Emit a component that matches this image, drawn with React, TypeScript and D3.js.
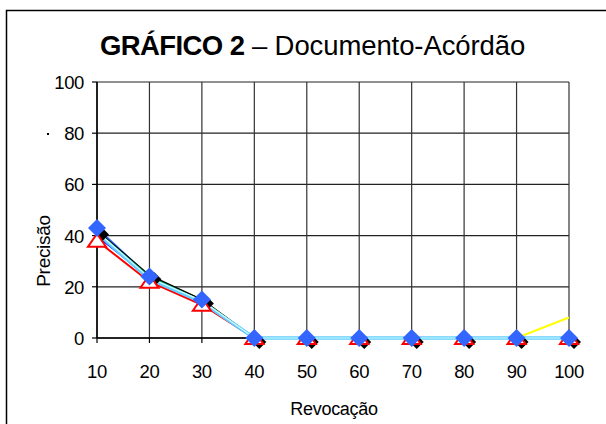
import React from "react";
import * as d3 from "d3";

const categories = [10, 20, 30, 40, 50, 60, 70, 80, 90, 100];
const yTicks = [0, 20, 40, 60, 80, 100];

const seriesRed = [38, 22, 13, 0, 0, 0, 0, 0, 0, 0];
const seriesDarkBlue = [40, 23.5, 14, 0, 0, 0, 0, 0, 0, 0];
const seriesBlack = [42, 24.5, 15, 0, 0, 0, 0, 0, 0, 0];
const seriesGreen = [41.5, 24, 14.5, 0, 0, 0, 0, 0, 0, 0];
const seriesTeal = [41, 23.5, 14, 0, 0, 0, 0, 0, 0, 0];
const seriesCyan = [41.5, 23.5, 14.5, 0, 0, 0, 0, 0, 0, 0];
const seriesLightBlue = [41, 23, 14, 0, 0, 0, 0, 0, 0, 0];
const seriesYellow = [42, 24, 15, 0, 0, 0, 0, 0, 0, 8];
const seriesRoyal = [43, 24, 15, 0, 0, 0, 0, 0, 0, 0];

const W = 606;
const H = 424;
const left = 97;
const right = 569;
const top = 82;
const bottom = 338;

export default function App() {
  const x = d3.scaleLinear().domain([10, 100]).range([left, right]);
  const y = d3.scaleLinear().domain([0, 100]).range([bottom, top]);
  const line = d3
    .line<number>()
    .x((_, i) => x(categories[i]))
    .y((d) => y(d));

  const lineSeries = [
    { data: seriesYellow, color: "#FFFF00", w: 2 },
    { data: seriesRoyal, color: "#3366FF", w: 1.5 },
    { data: seriesRed, color: "#FF0000", w: 2 },
    { data: seriesDarkBlue, color: "#0000FF", w: 2 },
    { data: seriesBlack, color: "#000000", w: 1.5 },
    { data: seriesGreen, color: "#00A060", w: 1.5 },
    { data: seriesTeal, color: "#008080", w: 1.5 },
    { data: seriesLightBlue, color: "#66CCFF", w: 3.5 },
    { data: seriesCyan, color: "#CCFFFF", w: 1.2 },
  ];

  const diamond = (cx: number, cy: number, r: number) =>
    `M${cx},${cy - r}L${cx + r},${cy}L${cx},${cy + r}L${cx - r},${cy}Z`;
  const tri = (cx: number, cy: number) =>
    `M${cx},${cy - 7}L${cx + 9},${cy + 6}L${cx - 9},${cy + 6}Z`;

  return (
    <svg
      width={W}
      height={H}
      style={{ position: "absolute", left: 0, top: 0, background: "#fff" }}
      fontFamily="'Liberation Sans', Arial, sans-serif"
    >
      <rect x={0} y={0} width={W} height={H} fill="#fff" />
      <rect x={6.5} y={10.5} width={640} height={440} fill="none" stroke="#000" strokeWidth={1.5} />
      <text x={100} y={55} fontSize={27.5}>
        <tspan fontWeight="bold" letterSpacing={-0.6}>GRÁFICO 2</tspan>
        <tspan letterSpacing={-0.1}> – Documento-Acórdão</tspan>
      </text>
      {/* grid */}
      {yTicks.map((t) => (
        <line key={"h" + t} x1={left} x2={right} y1={y(t)} y2={y(t)} stroke="#222" strokeWidth={1.2} />
      ))}
      {categories.map((c) => (
        <line key={"v" + c} x1={x(c)} x2={x(c)} y1={top} y2={bottom} stroke="#333" strokeWidth={1.2} />
      ))}
      <line x1={left} x2={left} y1={top} y2={bottom} stroke="#000" strokeWidth={1.5} />
      <line x1={left} x2={right} y1={bottom} y2={bottom} stroke="#000" strokeWidth={1.5} />
      {yTicks.map((t) => (
        <g key={"yt" + t}>
          <line x1={left - 5} x2={left} y1={y(t)} y2={y(t)} stroke="#000" strokeWidth={1.2} />
          <text x={84} y={y(t) + 7} fontSize={18.5} textAnchor="end" letterSpacing={-0.4}>
            {t}
          </text>
        </g>
      ))}
      {categories.map((c) => (
        <g key={"xt" + c}>
          <line x1={x(c)} x2={x(c)} y1={bottom} y2={bottom + 5} stroke="#000" strokeWidth={1.2} />
          <text x={x(c)} y={378} fontSize={18.5} textAnchor="middle" letterSpacing={-0.4}>
            {c}
          </text>
        </g>
      ))}
      <rect x={47} y={133} width={2} height={2} fill="#000" />
      <text x={334} y={415} fontSize={18} textAnchor="middle" letterSpacing={-0.3}>
        Revocação
      </text>
      <text
        transform={`translate(50,251) rotate(-90)`}
        fontSize={19}
        textAnchor="middle"
        letterSpacing={-0.3}
      >
        Precisão
      </text>
      {/* lines */}
      {lineSeries.map((s, k) => (
        <path key={"l" + k} d={line(s.data) || ""} fill="none" stroke={s.color} strokeWidth={s.w} />
      ))}
      {/* black diamond markers (shadowed) */}
      {seriesBlack.map((v, i) => (
        <path key={"bd" + i} d={diamond(x(categories[i]) + 5, y(v) + 4, 7)} fill="#000" />
      ))}
      {/* red triangle markers */}
      {seriesRed.map((v, i) => (
        <path key={"rt" + i} d={tri(x(categories[i]), y(v))} fill="#fff" stroke="#FF0000" strokeWidth={2} />
      ))}
      {/* royal blue diamond markers */}
      {seriesRoyal.map((v, i) => (
        <path key={"rd" + i} d={diamond(x(categories[i]), y(v), 9)} fill="#3366FF" />
      ))}
    </svg>
  );
}
